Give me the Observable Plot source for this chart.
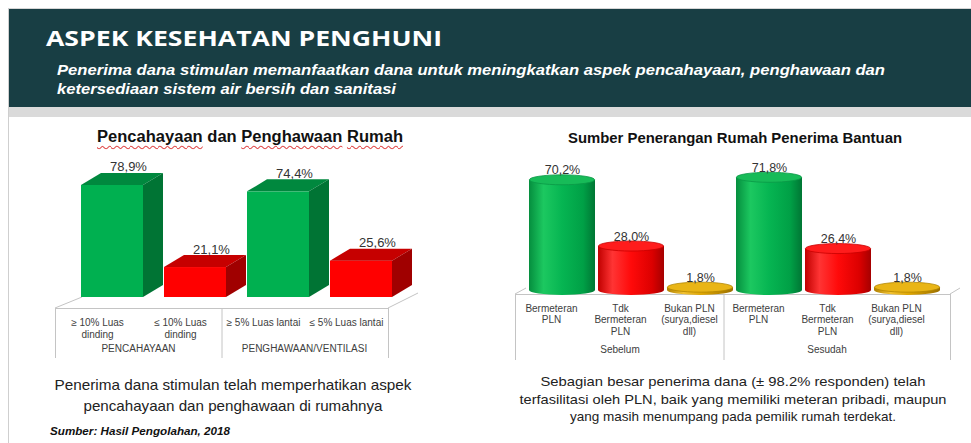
<!DOCTYPE html>
<html>
<head>
<meta charset="utf-8">
<script src="https://cdn.jsdelivr.net/npm/d3@7"></script>
<script src="https://cdn.jsdelivr.net/npm/@observablehq/plot@0.6"></script>
<style>
html,body{margin:0;padding:0;background:#fff;}
#page{position:relative;width:971px;height:443px;overflow:hidden;font-family:"Liberation Sans",Arial,sans-serif;}
#bg{position:absolute;left:0;top:0;}
.chart{position:absolute;}
#ltitle{position:absolute;white-space:nowrap;font-weight:bold;font-size:16px;line-height:16px;color:#111;transform-origin:0 0;}
#ltitle .sp{text-decoration:underline wavy #e04a4a;text-decoration-thickness:1px;text-underline-offset:3px;text-decoration-skip-ink:none;}
</style>
</head>
<body>
<div id="page">
<svg id="bg" width="971" height="443" font-family="Liberation Sans, Arial, sans-serif">
  <rect x="9" y="9" width="962" height="98" fill="#183e44"/>
  <rect x="9" y="107" width="962" height="10" fill="#dadada"/>
  <line x1="8" y1="8.5" x2="971" y2="8.5" stroke="#d6d6d6"/>
  <line x1="8.5" y1="8" x2="8.5" y2="443" stroke="#cfcfcf"/>
  <text x="46" y="46" font-family="Open Sans, Liberation Sans, sans-serif" font-weight="700" font-size="22" fill="#fff" textLength="396" lengthAdjust="spacingAndGlyphs">ASPEK KESEHATAN PENGHUNI</text>
  <text x="57" y="75" font-weight="bold" font-style="italic" font-size="15" fill="#fff" textLength="828" lengthAdjust="spacingAndGlyphs">Penerima dana stimulan memanfaatkan dana untuk meningkatkan aspek pencahayaan, penghawaan dan</text>
  <text x="57" y="94" font-weight="bold" font-style="italic" font-size="15" fill="#fff" textLength="339" lengthAdjust="spacingAndGlyphs">ketersediaan sistem air bersih dan sanitasi</text>
  <text x="735" y="143" text-anchor="middle" font-weight="bold" font-size="14.5" fill="#111" textLength="334" lengthAdjust="spacingAndGlyphs">Sumber Penerangan Rumah Penerima Bantuan</text>
  <text x="233" y="390" text-anchor="middle" font-size="15" fill="#222" textLength="357" lengthAdjust="spacingAndGlyphs">Penerima dana stimulan telah memperhatikan aspek</text>
  <text x="233" y="411" text-anchor="middle" font-size="15" fill="#222" textLength="299" lengthAdjust="spacingAndGlyphs">pencahayaan dan penghawaan di rumahnya</text>
  <text x="50" y="435" font-weight="bold" font-style="italic" font-size="10" fill="#111" textLength="180" lengthAdjust="spacingAndGlyphs">Sumber: Hasil Pengolahan, 2018</text>
  <text x="733" y="386" text-anchor="middle" font-size="13.5" fill="#222" textLength="385" lengthAdjust="spacingAndGlyphs">Sebagian besar penerima dana (± 98.2% responden) telah</text>
  <text x="733" y="404" text-anchor="middle" font-size="13.5" fill="#222" textLength="427" lengthAdjust="spacingAndGlyphs">terfasilitasi oleh PLN, baik yang memiliki meteran pribadi, maupun</text>
  <text x="733" y="421" text-anchor="middle" font-size="13.5" fill="#222" textLength="326" lengthAdjust="spacingAndGlyphs">yang masih menumpang pada pemilik rumah terdekat.</text>
</svg>
<div id="ltitle"><span class="sp">Pencahayaan</span> dan <span class="sp">Penghawaan</span> <span class="sp">Rumah</span></div>
<div id="leftChart" class="chart" style="left:0px;top:118px"></div>
<div id="rightChart" class="chart" style="left:490px;top:118px"></div>
</div>
<script>
// ---------- DATA ----------
// Left chart: Pencahayaan dan Penghawaan Rumah
const leftCategories = ["≥ 10% Luas\ndinding", "≤ 10% Luas\ndinding", "≥ 5% Luas lantai", "≤ 5% Luas lantai"];
const leftGroups = ["PENCAHAYAAN", "PENCAHAYAAN", "PENGHAWAAN/VENTILASI", "PENGHAWAAN/VENTILASI"];
const leftValues = [78.9, 21.1, 74.4, 25.6];
const leftValueLabels = ["78,9%", "21,1%", "74,4%", "25,6%"];
const leftKinds = ["Memenuhi", "Tidak memenuhi", "Memenuhi", "Tidak memenuhi"];

// Right chart: Sumber Penerangan Rumah Penerima Bantuan
const rightPeriods = ["Sebelum", "Sesudah"];
const rightCategories = ["Bermeteran\nPLN", "Tdk\nBermeteran\nPLN", "Bukan PLN\n(surya,diesel\ndll)"];
const rightKinds = ["Bermeteran", "Tdk Bermeteran", "Bukan PLN"];
const rightBefore = [70.2, 28.0, 1.8];
const rightAfter = [71.8, 26.4, 1.8];
const rightBeforeLabels = ["70,2%", "28,0%", "1,8%"];
const rightAfterLabels = ["71,8%", "26,4%", "1,8%"];

// ---------- STYLE ----------
const leftFront = {"Memenuhi": "#00b050", "Tidak memenuhi": "#ff0000"};
const leftTop = {"Memenuhi": "#00883e", "Tidak memenuhi": "#c60000"};
const leftSide = {"Memenuhi": "#007434", "Tidak memenuhi": "#a00000"};
const BOX_SHIFT = {x: 15, y: -11};   // bars set back from the table front
const BOX_DEPTH = {x: 20, y: -12};
const CYL_SHIFT = 11;
const CYL_RY = 5;
const cylGrad = {"Bermeteran": "cyl-green", "Tdk Bermeteran": "cyl-red", "Bukan PLN": "cyl-gold"};
const cylTop = {"Bermeteran": ["#17bb58", "#0a9846"], "Tdk Bermeteran": ["#ff1c1c", "#c80000"], "Bukan PLN": ["#e9b516", "#b38600"]};

function info(s) {
  const f = typeof s === "function" ? s : s.apply;
  const bw = typeof s.bandwidth === "function" ? s.bandwidth() : s.bandwidth;
  const step = typeof s.step === "function" ? s.step() : s.step;
  const range = typeof s.range === "function" ? s.range() : s.range;
  return {f, bw, step, range};
}

// ---------- LEFT CHART ----------
const leftRows = leftCategories.map((c, i) => ({
  category: c, group: leftGroups[i], value: leftValues[i], label: leftValueLabels[i], kind: leftKinds[i]
}));

function leftTable(index, scales) {
  const X = info(scales.x), Y = info(scales.y);
  const y0 = Y.f(0), [r0, r1] = X.range;
  const g = d3.create("svg:g").attr("stroke", "#c4c4c4").attr("fill", "none").attr("stroke-width", 1);
  g.append("line").attr("x1", r0).attr("x2", r1).attr("y1", y0 + 0.5).attr("y2", y0 + 0.5);
  g.append("line").attr("x1", r0).attr("y1", y0).attr("x2", r0 + BOX_SHIFT.x + 12).attr("y2", y0 + BOX_SHIFT.y);
  g.append("line").attr("x1", r1).attr("y1", y0).attr("x2", r1 + BOX_SHIFT.x + 15).attr("y2", y0 + BOX_SHIFT.y - 4);
  const gap = (X.step - X.bw) / 2;
  const groups = Array.from(new Set(leftGroups));
  const bounds = [r0];
  groups.forEach((gr, gi) => {
    const cats = leftRows.filter(d => d.group === gr).map(d => d.category);
    if (gi > 0) bounds.push(X.f(cats[0]) - gap);
  });
  bounds.push(r1);
  bounds.forEach(b => g.append("line").attr("x1", b + 0.5).attr("x2", b + 0.5).attr("y1", y0).attr("y2", y0 + 50));
  groups.forEach(gr => {
    const cats = leftRows.filter(d => d.group === gr).map(d => d.category);
    const cx = (X.f(cats[0]) + X.f(cats[cats.length - 1]) + X.bw) / 2;
    g.append("text").attr("x", cx).attr("y", y0 + 44).attr("text-anchor", "middle")
      .attr("stroke", "none").attr("fill", "#404040").attr("font-size", 10).text(gr);
  });
  return g.node();
}

function leftFaces(index, scales) {
  const X = info(scales.x), Y = info(scales.y);
  const g = d3.create("svg:g");
  leftRows.forEach(d => {
    const x0 = X.f(d.category) + BOX_SHIFT.x, x1 = x0 + X.bw;
    const yt = Y.f(d.value) + BOX_SHIFT.y, yb = Y.f(0) + BOX_SHIFT.y;
    const dx = BOX_DEPTH.x, dy = BOX_DEPTH.y;
    g.append("polygon").attr("points", [[x0, yt], [x1, yt], [x1 + dx, yt + dy], [x0 + dx, yt + dy]].join(" "))
      .attr("fill", leftTop[d.kind]);
    g.append("polygon").attr("points", [[x1, yt], [x1 + dx, yt + dy], [x1 + dx, yb + dy], [x1, yb]].join(" "))
      .attr("fill", leftSide[d.kind]);
  });
  return g.node();
}

const leftPlot = Plot.plot({
  width: 480, height: 242,
  marginLeft: 55, marginRight: 92, marginTop: 48, marginBottom: 52,
  x: {domain: leftCategories, paddingInner: 0.255, paddingOuter: 0.1275, axis: null},
  y: {domain: [0, 100], axis: null},
  color: {domain: Object.keys(leftFront), range: Object.values(leftFront)},
  style: {background: "transparent", fontFamily: "Liberation Sans, Arial, sans-serif", overflow: "visible"},
  marks: [
    leftTable,
    Plot.barY(leftRows, {x: "category", y: "value", fill: "kind", dx: BOX_SHIFT.x, dy: BOX_SHIFT.y}),
    leftFaces,
    Plot.text(leftRows, {x: "category", y: "value", text: "label", dx: 31, dy: -25, lineAnchor: "bottom", fontSize: 13, fill: "#333"}),
    Plot.text(leftRows, {x: "category", text: "category", frameAnchor: "bottom", lineAnchor: "top", dy: 10, fontSize: 10, lineHeight: 1.12, fill: "#404040"})
  ]
});
document.getElementById("leftChart").appendChild(leftPlot);

// ---------- RIGHT CHART ----------
const rightRows = [];
rightPeriods.forEach((p, pi) => {
  const vals = pi === 0 ? rightBefore : rightAfter;
  const labs = pi === 0 ? rightBeforeLabels : rightAfterLabels;
  rightCategories.forEach((c, i) => rightRows.push({
    key: p + "|" + c, period: p, category: c, kind: rightKinds[i], value: vals[i], label: labs[i]
  }));
});

function rightDefs() {
  const svg = d3.create("svg:g");
  const defs = svg.append("defs");
  const mk = (id, stops) => {
    const lg = defs.append("linearGradient").attr("id", id).attr("x1", 0).attr("x2", 1).attr("y1", 0).attr("y2", 0);
    stops.forEach(([o, c]) => lg.append("stop").attr("offset", o).attr("stop-color", c));
  };
  mk("cyl-green", [[0, "#058e3e"], [0.22, "#1cc860"], [0.5, "#06b552"], [0.82, "#00a046"], [1, "#007634"]]);
  mk("cyl-red", [[0, "#c00000"], [0.22, "#ff3434"], [0.5, "#ff0a0a"], [0.82, "#dc0000"], [1, "#a50000"]]);
  mk("cyl-gold", [[0, "#b08000"], [0.25, "#f2c232"], [0.55, "#dca400"], [1, "#9c7000"]]);
  return svg.node();
}

function rightTable(index, scales) {
  const X = info(scales.x), Y = info(scales.y);
  const y0 = Y.f(0), [r0, r1] = X.range;
  const right = r1 + 18;
  const g = d3.create("svg:g").attr("stroke", "#c4c4c4").attr("fill", "none");
  g.append("line").attr("x1", r0).attr("x2", right).attr("y1", y0 + 4.5).attr("y2", y0 + 4.5);
  g.append("line").attr("x1", r0).attr("y1", y0 + 4).attr("x2", r0 + 11).attr("y2", y0 - 2);
  g.append("line").attr("x1", right).attr("y1", y0 + 4).attr("x2", right + 10).attr("y2", y0 - 2);
  const gap = (X.step - X.bw) / 2;
  const bounds = [r0];
  rightPeriods.forEach((p, pi) => { if (pi > 0) bounds.push(X.f(p + "|" + rightCategories[0]) - gap); });
  bounds.push(right);
  bounds.forEach(b => g.append("line").attr("x1", b + 0.5).attr("x2", b + 0.5).attr("y1", y0 + 4).attr("y2", y0 + 70));
  rightPeriods.forEach(p => {
    const a = X.f(p + "|" + rightCategories[0]), b = X.f(p + "|" + rightCategories[rightCategories.length - 1]) + X.bw;
    g.append("text").attr("x", (a + b) / 2).attr("y", y0 + 63).attr("text-anchor", "middle")
      .attr("stroke", "none").attr("fill", "#404040").attr("font-size", 10).text(p);
  });
  return g.node();
}

function rightBottoms(index, scales) {
  const X = info(scales.x), Y = info(scales.y);
  const g = d3.create("svg:g");
  rightRows.forEach(d => {
    g.append("ellipse").attr("cx", X.f(d.key) + CYL_SHIFT + X.bw / 2).attr("cy", Y.f(0))
      .attr("rx", X.bw / 2).attr("ry", CYL_RY).attr("fill", `url(#${cylGrad[d.kind]})`);
  });
  return g.node();
}

function rightTops(index, scales) {
  const X = info(scales.x), Y = info(scales.y);
  const g = d3.create("svg:g");
  rightRows.forEach(d => {
    g.append("ellipse").attr("cx", X.f(d.key) + CYL_SHIFT + X.bw / 2).attr("cy", Y.f(d.value))
      .attr("rx", X.bw / 2 - 0.4).attr("ry", CYL_RY).attr("fill", cylTop[d.kind][0])
      .attr("stroke", cylTop[d.kind][1]).attr("stroke-width", 0.8);
  });
  return g.node();
}

const rightPlot = Plot.plot({
  width: 481, height: 242,
  marginLeft: 25, marginRight: 39, marginTop: 15, marginBottom: 70,
  x: {domain: rightRows.map(d => d.key), paddingInner: 0.05, paddingOuter: 0.025, axis: null},
  y: {domain: [0, 100], axis: null},
  color: {domain: rightKinds, range: rightKinds.map(k => `url(#${cylGrad[k]})`)},
  style: {background: "transparent", fontFamily: "Liberation Sans, Arial, sans-serif", overflow: "visible"},
  marks: [
    rightDefs,
    rightTable,
    rightBottoms,
    Plot.barY(rightRows, {x: "key", y: "value", fill: "kind", dx: CYL_SHIFT}),
    rightTops,
    Plot.text(rightRows, {x: "key", y: "value", text: "label", dx: CYL_SHIFT, dy: -6, lineAnchor: "bottom", fontSize: 12.5, fill: "#333"}),
    Plot.text(rightRows, {x: "key", text: "category", frameAnchor: "bottom", lineAnchor: "top", dy: 13, fontSize: 10, lineHeight: 1.15, fill: "#404040"})
  ]
});
document.getElementById("rightChart").appendChild(rightPlot);

// ---------- left chart title fit ----------
const lt = document.getElementById("ltitle");
const w = lt.getBoundingClientRect().width;
lt.style.left = "97px";
lt.style.top = "128.5px";
lt.style.transform = `scaleX(${306 / w})`;
</script>
</body>
</html>
